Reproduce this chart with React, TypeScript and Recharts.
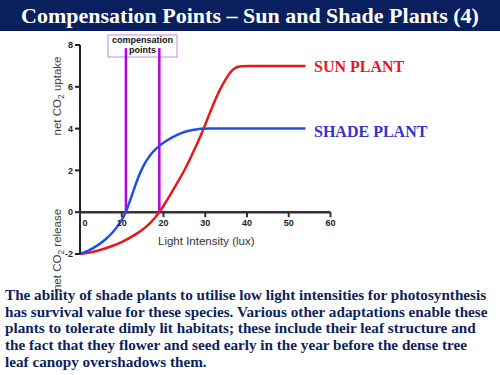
import { LineChart, Line, XAxis, YAxis, ReferenceLine } from "recharts";

// light intensity (lux) sampled along the curves
const lightIntensity = [0, 2, 4, 6, 8, 10, 11, 12, 13, 14, 15, 16, 17, 18, 19, 20, 22, 24, 25, 26, 28, 29, 30, 31, 32, 33, 34, 35, 36, 37, 38, 40, 45, 50, 54];
const sunPlant = [-2, -1.95, -1.86, -1.74, -1.6, -1.43, -1.33, -1.22, -1.1, -0.97, -0.83, -0.67, -0.48, -0.26, 0, 0.3, 0.95, 1.65, 2.0, 2.4, 3.25, 3.7, 4.2, 4.7, 5.2, 5.65, 6.05, 6.4, 6.7, 6.9, 6.98, 7, 7, 7, 7];
const shadePlant = [-2, -1.85, -1.62, -1.33, -0.95, -0.4, 0, 0.55, 1.15, 1.7, 2.15, 2.5, 2.78, 3.0, 3.18, 3.33, 3.58, 3.77, 3.84, 3.9, 3.97, 3.99, 4, 4, 4, 4, 4, 4, 4, 4, 4, 4, 4, 4, 4];

const xTicks = [0, 10, 20, 30, 40, 50, 60];
const yTicks = [-2, 0, 2, 4, 6, 8];
const compensationPoints = [11, 19];

const data = lightIntensity.map((x, i) => ({ x, sun: sunPlant[i], shade: shadePlant[i] }));

const paragraph = [
  "The ability of shade plants to utilise low light intensities for photosynthesis",
  "has survival value for these species. Various other adaptations enable these",
  "plants to tolerate dimly lit habitats; these include their leaf structure and",
  "the fact that they flower and seed early in the year before the dense tree",
  "leaf canopy overshadows them.",
];

const sans = "'Liberation Sans', Arial, sans-serif";
const serif = "'Liberation Serif', 'Times New Roman', serif";

// x axis sits on y = 0, which is 2 units (≈42px) above the bottom of the plot
const XTick = ({ x, y, payload }: any) => {
  const top = y - 41.8;
  return (
    <g>
      <line x1={x} x2={x} y1={top} y2={top + 5} stroke="#333" strokeWidth={2} />
      <text
        x={x + (payload.value === 0 ? 5 : 0)}
        y={top + 14}
        textAnchor="middle"
        fontFamily={sans}
        fontSize={9}
        fontWeight="bold"
        fill="#222"
      >
        {payload.value}
      </text>
    </g>
  );
};

export default function App() {
  return (
    <div style={{ position: "absolute", left: 0, top: 0, width: 500, height: 375, background: "#fff", overflow: "hidden" }}>
      <div
        style={{
          position: "absolute", left: 0, top: 0, width: 500, height: 31, background: "#0a1f5e",
          color: "#fff", fontFamily: serif, fontWeight: "bold", fontSize: 22, lineHeight: "31px", textAlign: "center",
        }}
      >
        Compensation Points – Sun and Shade Plants (4)
      </div>

      <svg width={500} height={375} style={{ position: "absolute", left: 0, top: 0 }}>
        <rect x={108} y={35} width={69} height={22} fill="#fff" stroke="#cc88dd" strokeWidth={1} />
        <text x={142.5} y={43} textAnchor="middle" fontFamily={sans} fontSize={9} fontWeight="bold" fill="#111">compensation</text>
        <text x={142.5} y={53} textAnchor="middle" fontFamily={sans} fontSize={9} fontWeight="bold" fill="#111">points</text>
        <text transform="translate(61,96) rotate(-90)" textAnchor="middle" fontFamily={sans} fontSize={11.5} fill="#444">
          net CO<tspan fontSize={8.5} dy={3}>2</tspan><tspan dy={-3}> uptake</tspan>
        </text>
        <text transform="translate(61,250) rotate(-90)" textAnchor="middle" fontFamily={sans} fontSize={11.5} fill="#444">
          net CO<tspan fontSize={8.5} dy={3}>2</tspan><tspan dy={-3}> release</tspan>
        </text>
        <text x={158} y={245} fontFamily={sans} fontSize={11.5} fill="#333">Light Intensity (lux)</text>
        <text x={314} y={72} fontFamily={serif} fontSize={16} fontWeight="bold" fill="#e81818">SUN PLANT</text>
        <text x={314} y={137} fontFamily={serif} fontSize={16} fontWeight="bold" fill="#3333cc">SHADE PLANT</text>
      </svg>

      <div style={{ position: "absolute", left: 0, top: 0 }}>
        <LineChart width={500} height={375} data={data} margin={{ top: 45, right: 169.5, left: 50, bottom: 91 }}>
          <XAxis
            dataKey="x"
            type="number"
            domain={[0, 60]}
            ticks={xTicks}
            axisLine={false}
            tickLine={false}
            tickSize={0}
            tickMargin={0}
            height={30}
            tick={<XTick />}
          />
          <YAxis
            type="number"
            domain={[-2, 8]}
            ticks={yTicks}
            width={30}
            axisLine={{ stroke: "#222", strokeWidth: 2 }}
            tickLine={{ stroke: "#222", strokeWidth: 2 }}
            tickSize={5}
            tick={{ fontFamily: sans, fontSize: 9, fontWeight: "bold", fill: "#222" }}
          />
          <ReferenceLine
            segment={[{ x: 0, y: 0 }, { x: 60, y: 0 }]}
            stroke="#333"
            strokeWidth={2.5}
          />
          {compensationPoints.map((p) => (
            <ReferenceLine
              key={p}
              segment={[{ x: p, y: 0 }, { x: p, y: 7.85 }]}
              stroke="#b400e6"
              strokeWidth={2.5}
            />
          ))}
          <Line type="basis" dataKey="sun" stroke="#e81818" strokeWidth={2.5} dot={false} isAnimationActive={false} />
          <Line type="basis" dataKey="shade" stroke="#1f4fe8" strokeWidth={2.5} dot={false} isAnimationActive={false} />
        </LineChart>
      </div>

      <div
        style={{
          position: "absolute", left: 5, top: 287, width: 495, fontFamily: serif, fontWeight: "bold",
          fontSize: 15.2, lineHeight: "16.7px", color: "#0d1f5c", whiteSpace: "nowrap",
        }}
      >
        {paragraph.map((line) => (
          <div key={line}>{line}</div>
        ))}
      </div>
    </div>
  );
}
